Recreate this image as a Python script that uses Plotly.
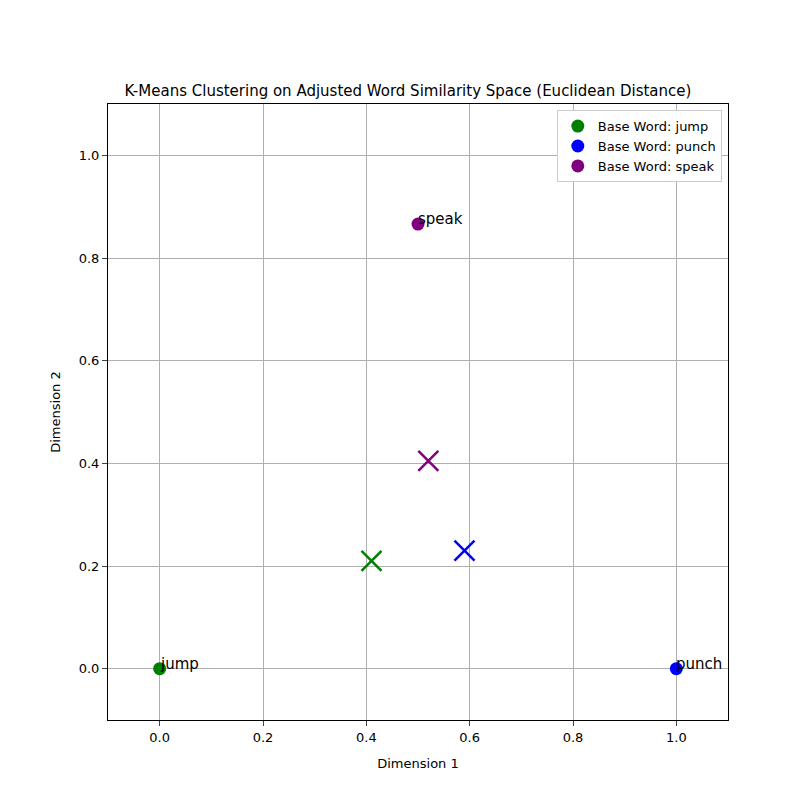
import plotly.graph_objects as go

words = ["jump", "punch", "speak"]
word_x = [0.0, 1.0, 0.5]
word_y = [0.0, 0.0, 0.866]
colors = ["green", "blue", "purple"]
centroid_x = [0.41, 0.59, 0.52]
centroid_y = [0.21, 0.23, 0.405]

fig = go.Figure()
for w, x, y, c in zip(words, word_x, word_y, colors):
    fig.add_trace(go.Scatter(x=[x], y=[y], mode="markers", name=f"Base Word: {w}",
                             marker=dict(color=c, size=13), cliponaxis=False))
    fig.add_annotation(x=x, y=y, text=w, showarrow=False, xanchor="left", yanchor="bottom",
                       xshift=-2, yshift=-6, font=dict(size=15, color="black"))
for cx, cy, c in zip(centroid_x, centroid_y, colors):
    fig.add_trace(go.Scatter(x=[cx], y=[cy], mode="markers", showlegend=False,
                             marker=dict(symbol="x-thin", size=20, line=dict(color=c, width=2.5))))

axis = dict(range=[-0.1, 1.1], showgrid=True, gridcolor="#b0b0b0", zeroline=False,
            showline=True, linecolor="black", mirror=True, ticks="outside", automargin=False,
            tickvals=[0, 0.2, 0.4, 0.6, 0.8, 1.0], tickformat=".1f")
fig.update_layout(
    width=800, height=800, plot_bgcolor="white", paper_bgcolor="white",
    font=dict(family="DejaVu Sans", size=13, color="black"),
    title=dict(text="K-Means Clustering on Adjusted Word Similarity Space (Euclidean Distance)",
               x=0.5, y=0.897, xanchor="center", yanchor="middle", font=dict(size=15)),
    xaxis=dict(axis, title=dict(text="Dimension 1", font=dict(size=13))),
    yaxis=dict(axis, title=dict(text="Dimension 2", font=dict(size=13))),
    margin=dict(l=100, r=80, t=96, b=88),
    legend=dict(x=0.99, y=0.99, xanchor="right", yanchor="top",
                bordercolor="#cccccc", borderwidth=1, bgcolor="white"),
)
fig.write_html("out.html")
